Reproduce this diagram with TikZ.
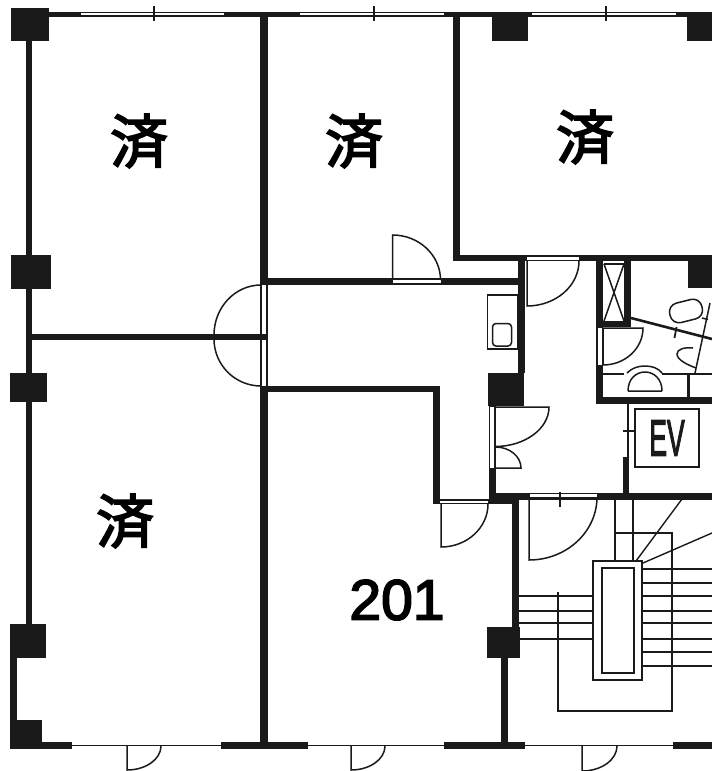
\documentclass[tikz,border=0pt]{standalone}
\usepackage{fontspec}
\setmainfont{Liberation Sans}
\newfontfamily\cjk[FakeBold=3]{Noto Sans CJK JP}
\newfontfamily\numf[FakeBold=3]{Liberation Sans}
\definecolor{ink}{HTML}{1A1A1A}
\tikzset{
  solid wall/.style={fill=ink},
  thin line/.style={draw=ink,line width=1.5pt},
  tread/.style={draw=ink,line width=1.4pt},
  strip/.style={fill=white},
  sold/.style={font=\cjk\fontsize{58}{58}\selectfont,text=black,inner sep=0pt},
}
\newcommand\wl[4]{\fill[solid wall] (#1,#2) rectangle (#3,#4);}
\newcommand\st[4]{\fill[strip] (#1,#2) rectangle (#3,#4);}
\begin{document}
\begin{tikzpicture}[x=1pt,y=-1pt]
\useasboundingbox (0,0) rectangle (712,771);
% outer top wall
\wl{32}{12}{712}{17.3}
\st{81}{13}{224}{15.4}
\st{300}{13}{444}{15.4}
\st{532}{13}{676}{15.4}
\draw[thin line] (154,6)--(154,21) (374,6)--(374,21) (606,6)--(606,21);
% columns top
\wl{11}{8}{49}{41}
\wl{492}{12}{528}{41}
\wl{687}{12}{712}{41}
% left wall
\wl{25.5}{41}{32}{624}
\wl{11}{255}{51}{289}
\wl{10}{373}{47}{402}
\wl{10}{624}{46}{658}
\wl{10}{658}{17}{720}
\wl{10}{720}{42}{749}
\wl{42}{742}{72}{749}
% bottom
\wl{221}{742}{308}{749}
\wl{444}{742}{525}{749}
\wl{673}{742}{712}{749}
\draw[thin line] (72,745.5)--(221,745.5) (308,745.5)--(444,745.5) (525,745.5)--(673,745.5);
\draw[thin line] (127,746)--(127,770) arc[start angle=90,end angle=0,x radius=34,y radius=24];
\draw[thin line] (351,746)--(351,770) arc[start angle=90,end angle=0,x radius=34,y radius=24];
\draw[thin line] (582,746)--(582,771) arc[start angle=90,end angle=0,x radius=35,y radius=25];
% partitions
\wl{260}{12}{267.5}{285}
\wl{260}{386}{267.5}{749}
\wl{453}{12}{460}{261}
\wl{453}{254.5}{712}{261}
\wl{267}{278}{525}{285}
\wl{32}{334}{266}{340}
\wl{260}{386}{440}{392}
\wl{433}{386}{440}{504}
% double door
\draw[thin line] (261,285)--(261,386) (267,285)--(267,386);
\draw[thin line] (261,285) arc[start angle=-90,end angle=-180,x radius=47,y radius=50];
\draw[thin line] (261,386) arc[start angle=90,end angle=180,x radius=47,y radius=47];
% door to upper room
\st{392.5}{280}{440.5}{283}
\draw[thin line] (392.5,280)--(392.5,235) arc[start angle=-90,end angle=0,x radius=48,y radius=45];
% corridor
\wl{518}{255}{525}{373}
\wl{488}{373}{524}{406}
\st{527}{256.5}{579}{259.5}
\draw[thin line] (527,261)--(527,306) arc[start angle=90,end angle=0,x radius=52,y radius=45];
\draw[thin line] (487.5,295) rectangle (518,349);
\draw[thin line,rounded corners=3.5pt] (492.5,323.5) rectangle (511.5,346);
% doors under the column
\wl{489}{406}{495.5}{500}
\st{490}{407}{493.5}{468}
\draw[thin line] (495.5,407)--(549,407) arc[start angle=0,end angle=90,x radius=54,y radius=39.5];
\draw[thin line] (495.5,468)--(521,468) arc[start angle=0,end angle=-90,x radius=25.5,y radius=21];
\draw[thin line] (495.5,406)--(495.5,468);
% bottom corridor wall
\wl{489}{493}{712}{500}
\st{530}{494}{597}{497}
\wl{489}{493}{519}{504}
\wl{512}{500}{519}{627}
\wl{487}{627}{519.5}{658}
\wl{501}{658}{508}{745}
\draw[thin line] (560,491.5)--(560,507);
% door 201
\wl{440}{499}{489}{504}
\st{440}{500.5}{488}{503}
\draw[thin line] (441,504)--(441,547) arc[start angle=90,end angle=0,x radius=47,y radius=43];
% stair door
\draw[thin line] (529,497)--(529,560) arc[start angle=90,end angle=0,x radius=68,y radius=63];
% WC block
\wl{596}{255}{603}{404}
\wl{596}{397}{712}{404}
\st{597.5}{328}{601.5}{365}
\wl{624}{255}{631}{327}
\wl{596}{321}{631}{327}
\wl{688}{255}{712}{288}
\draw[thin line] (603.5,264)--(624,264);
\draw[thin line] (604,264)--(624,321) (624,264)--(604,321);
\draw[thin line] (603,328)--(643,328) arc[start angle=0,end angle=90,x radius=40,y radius=37];
\draw[thin line] (603,328)--(603,365);
\draw[ink,line width=2.6pt] (631,318)--(712,339);
\draw[ink,line width=1.8pt] (676.5,327)--(674.5,338);
\draw[thin line] (710,303)--(695,373);
\draw[thin line,rounded corners=9pt,rotate around={14:(686,311)}] (669.5,301)rectangle(702.5,321);
\draw[thin line] (702,318)--(708,319.5);
\draw[thin line] (693,348) .. controls (685,347) and (677,349) .. (677,354) .. controls (677,360) and (688,365) .. (696,368);
\draw[thin line] (603,374)--(624,374) (662,374)--(712,374);
\wl{687}{374}{690}{397}
\draw[thin line] (628,391)--(662,391) (628,391) .. controls (628,379) and (636,372) .. (645,372) .. controls (654,372) and (662,379) .. (662,391);
\draw[thin line] (627,373) .. controls (632,368) and (638,366) .. (645,366) .. controls (652,366) and (658,368) .. (662,373);
% EV
\draw[thin line] (635,409) rectangle (699,467);
\node[inner sep=0pt,font=\numf\fontsize{51}{51}\selectfont,xscale=0.52,text=ink] (ev) at (667,438) {EV};
\draw[thin line] (628,404)--(628,457) (623,431)--(635,431);
\wl{623}{457}{629}{493}
% stairs
\draw[tread] (615,499)--(615,561) (633,499)--(633,561);
\draw[tread] (593,561) rectangle (642,680);
\draw[tread] (602,568) rectangle (634,673);
\draw[tread] (615,533)--(672,533)--(672,711)--(558,711)--(558,592);
\draw[tread] (682,499)--(636,561) (712,533)--(643,563);
\foreach \y in {569,583,596,611,623,639,652,666} \draw[tread] (642,\y)--(712,\y);
\foreach \y in {596,611,623,639} \draw[tread] (519,\y)--(593,\y);
% labels
\node[sold] (a) at (139,141) {済};
\node[sold] (b) at (354,141) {済};
\node[sold] (c) at (585,137) {済};
\node[sold] (d) at (125,521) {済};
\node[inner sep=0pt,font=\numf\fontsize{57}{57}\selectfont,text=black] (r) at (397,600) {201};
\end{tikzpicture}
\end{document}
